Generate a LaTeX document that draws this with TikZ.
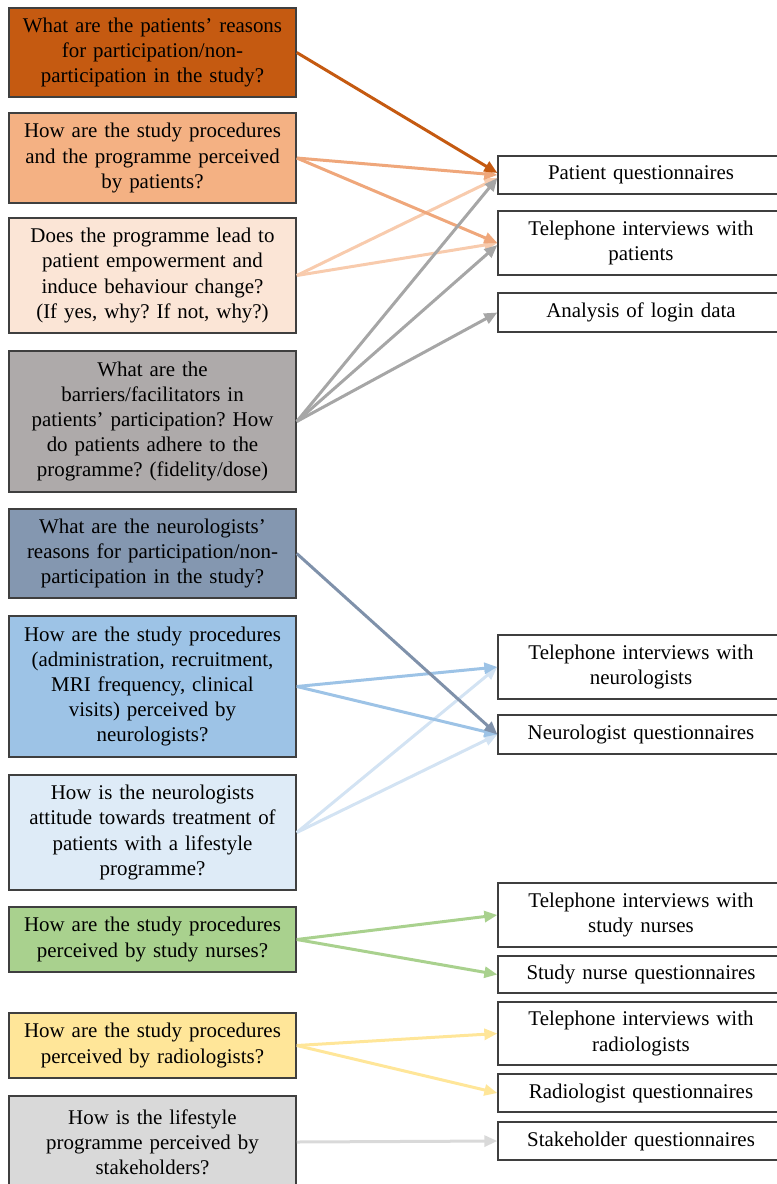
\documentclass[tikz,border=0pt]{standalone}
\usepackage{fontspec}
\setmainfont{Liberation Serif}
\frenchspacing
\usetikzlibrary{arrows.meta}
\definecolor{boxline}{HTML}{3F3F3F}
\definecolor{orangeA}{HTML}{C55A11}
\definecolor{orangeB}{HTML}{F4B183}
\definecolor{orangeBline}{HTML}{EFA77B}
\definecolor{orangeC}{HTML}{FBE5D6}
\definecolor{orangeCline}{HTML}{F8CBAD}
\definecolor{greyA}{HTML}{AEAAAA}
\definecolor{greyAline}{HTML}{A6A6A6}
\definecolor{blueA}{HTML}{8497B0}
\definecolor{blueAline}{HTML}{7F91AA}
\definecolor{blueB}{HTML}{9DC3E6}
\definecolor{blueC}{HTML}{DEEBF7}
\definecolor{blueCline}{HTML}{D3E3F3}
\definecolor{greenA}{HTML}{A9D18E}
\definecolor{yellowA}{HTML}{FFE699}
\definecolor{greyB}{HTML}{D9D9D9}
\tikzset{question/.style = {shape=rectangle,draw=boxline,line width=1.5bp,minimum width=287bp,text width=275bp,align=center,inner sep=0pt,font=\fontsize{21}{25.3}\selectfont}}
\tikzset{method/.style = {shape=rectangle,draw=boxline,line width=1.3bp,fill=white,minimum width=286bp,text width=275bp,align=center,inner sep=0pt,font=\fontsize{21}{25.3}\selectfont}}
\tikzset{edge/.style = {-{Triangle[length=13bp,width=11bp]},line width=3bp}}

\begin{document}
\begin{tikzpicture}[x=1bp,y=-1bp]
            \useasboundingbox (0,0) rectangle (777,1184);

            % research questions
            \node[question,fill=orangeA,minimum height=89bp] (q1) at (152.5,52.5) {What are the patients' reasons\\for participation/non-\\participation in the study?};
            \node[question,fill=orangeB,minimum height=90bp] (q2) at (152.5,158) {How are the study procedures\\and the programme perceived\\by patients?};
            \node[question,fill=orangeC,minimum height=115bp] (q3) at (152.5,275.5) {Does the programme lead to\\patient empowerment and\\induce behaviour change?\\(If yes, why? If not, why?)};
            \node[question,fill=greyA,minimum height=141bp] (q4) at (152.5,421.5) {What are the\\barriers/facilitators in\\patients' participation? How\\do patients adhere to the\\programme? (fidelity/dose)};
            \node[question,fill=blueA,minimum height=89bp] (q5) at (152.5,553.5) {What are the neurologists'\\reasons for participation/non-\\participation in the study?};
            \node[question,fill=blueB,minimum height=141bp] (q6) at (152.5,686.5) {How are the study procedures\\(administration, recruitment,\\MRI frequency, clinical\\visits) perceived by\\neurologists?};
            \node[question,fill=blueC,minimum height=115bp] (q7) at (152.5,832.5) {How is the neurologists\\attitude towards treatment of\\patients with a lifestyle\\programme?};
            \node[question,fill=greenA,minimum height=65bp] (q8) at (152.5,939.5) {How are the study procedures\\perceived by study nurses?};
            \node[question,fill=yellowA,minimum height=65bp] (q9) at (152.5,1045.5) {How are the study procedures\\perceived by radiologists?};
            \node[question,fill=greyB,minimum height=92bp] (q10) at (152.5,1142) {How is the lifestyle\\programme perceived by\\stakeholders?};

            % data sources
            \node[method,minimum height=38bp] (pq) at (641,175) {Patient questionnaires};
            \node[method,minimum height=64bp] (tp) at (641,243) {Telephone interviews with\\patients};
            \node[method,minimum height=39bp] (ld) at (641,312.5) {Analysis of login data};
            \node[method,minimum height=64bp] (tn) at (641,667) {Telephone interviews with\\neurologists};
            \node[method,minimum height=39bp] (nq) at (641,734.5) {Neurologist questionnaires};
            \node[method,minimum height=64bp] (ts) at (641,915) {Telephone interviews with\\study nurses};
            \node[method,minimum height=37bp] (sq) at (641,974.5) {Study nurse questionnaires};
            \node[method,minimum height=63bp] (tr) at (641,1033.5) {Telephone interviews with\\radiologists};
            \node[method,minimum height=38bp] (rq) at (641,1093) {Radiologist questionnaires};
            \node[method,minimum height=38bp] (skq) at (641,1141) {Stakeholder questionnaires};

            \draw[edge,orangeCline] (q3.east) to ([yshift=-3bp]pq.west);
            \draw[edge,orangeCline] (q3.east) to (tp.west);
            \draw[edge,orangeBline] (q2.east) to (pq.west);
            \draw[edge,orangeBline] (q2.east) to (tp.west);
            \draw[edge,greyAline] (q4.east) to ([yshift=-3bp]pq.west);
            \draw[edge,greyAline] (q4.east) to ([yshift=-2bp]tp.west);
            \draw[edge,greyAline] (q4.east) to (ld.west);
            \draw[edge,orangeA] (q1.east) to ([yshift=2bp]pq.west);

            \draw[edge,blueCline] (q7.east) to (tn.west);
            \draw[edge,blueCline] (q7.east) to (nq.west);
            \draw[edge,blueB] (q6.east) to (tn.west);
            \draw[edge,blueB] (q6.east) to (nq.west);
            \draw[edge,blueAline] (q5.east) to (nq.west);

            \draw[edge,greenA] (q8.east) to (ts.west);
            \draw[edge,greenA] (q8.east) to (sq.west);

            \draw[edge,yellowA] (q9.east) to (tr.west);
            \draw[edge,yellowA] (q9.east) to (rq.west);

            \draw[edge,greyB] (q10.east) to (skq.west);
\end{tikzpicture}
\end{document}
